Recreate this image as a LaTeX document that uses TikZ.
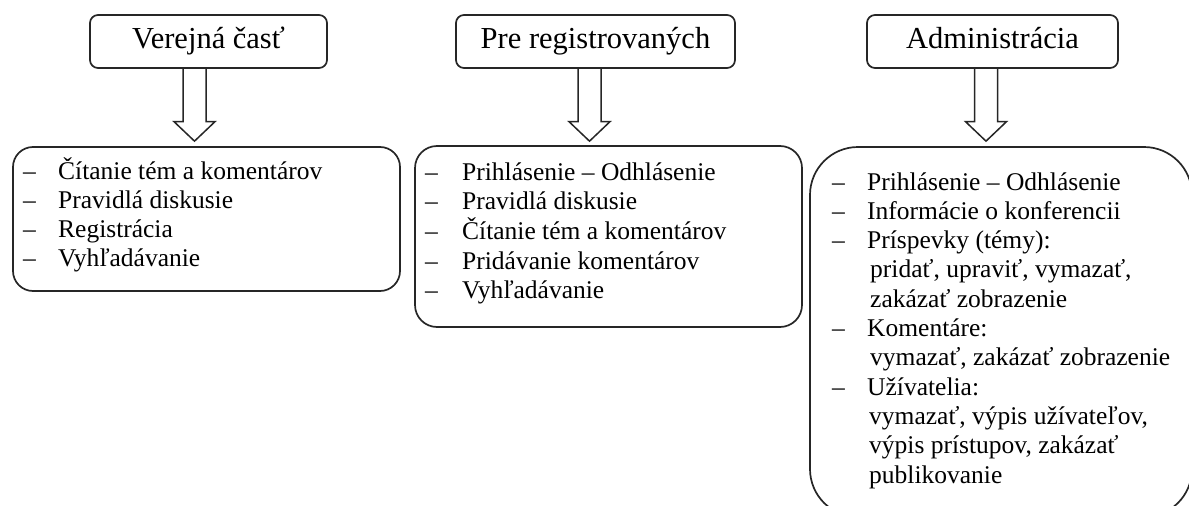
\documentclass[tikz,border=0pt]{standalone}
\usepackage{fontspec}
\setmainfont{Liberation Serif}
\usetikzlibrary{calc}

% hollow block arrow from a start point (top centre of the shaft) to a tip
\newcommand{\hollowarrow}[2]{%
  \draw[arrowline]
    ($(#1)+(-11.5,0)$) -- ($(#1 |- #2)+(-11.5,-19.5)$) -- ++(-9,0) -- (#2)
    -- ($(#1 |- #2)+(20.5,-19.5)$) -- ++(-9,0) -- ($(#1)+(11.5,0)$);}

\begin{document}
\begin{tikzpicture}[x=1pt,y=-1pt,
  frame/.style={draw=black!85, line width=1.7pt},
  headbox/.style={frame, rounded corners=8pt, minimum height=53pt, inner sep=0pt,
    text height=22pt, text depth=9pt, font=\fontsize{30.5}{37}\selectfont},
  listbox/.style={frame, inner sep=0pt},
  listtext/.style={anchor=base west, inner sep=0pt, font=\fontsize{25.5}{29.3}\selectfont},
  arrowline/.style={draw=black!85, line width=1.5pt, line join=miter}]

\useasboundingbox (0,0) rectangle (1189,506);
\clip (0,0) rectangle (1189,506);

% section headings
\node[headbox, minimum width=237pt] (t1) at (208.5,41.5) {Verejná časť};
\node[headbox, minimum width=279pt] (t2) at (595.5,41.5) {Pre registrovaných};
\node[headbox, minimum width=251pt] (t3) at (992.5,41.5) {Administrácia};

% content boxes
\node[listbox, rounded corners=20pt, minimum width=387pt, minimum height=144pt] (l1) at (206.5,219) {};
\node[listbox, rounded corners=22pt, minimum width=387pt, minimum height=181pt] (l2) at (608.5,236.5) {};
\node[listbox, rounded corners=48pt, minimum width=382pt, minimum height=370pt] (l3) at (1001,332) {};

% box contents
\node[listtext] (c1) at (23,179) {%
  \begin{tabular}[t]{@{}p{35pt}@{}l@{}}
  – & Čítanie tém a komentárov\\
  – & Pravidlá diskusie\\
  – & Registrácia\\
  – & Vyhľadávanie
  \end{tabular}};

\node[listtext] (c2) at (425,180) {%
  \begin{tabular}[t]{@{}p{37pt}@{}l@{}}
  – & Prihlásenie – Odhlásenie\\
  – & Pravidlá diskusie\\
  – & Čítanie tém a komentárov\\
  – & Pridávanie komentárov\\
  – & Vyhľadávanie
  \end{tabular}};

\node[listtext] (c3) at (832,190) {%
  \begin{tabular}[t]{@{}p{35pt}@{}l@{}}
  – & Prihlásenie – Odhlásenie\\
  – & Informácie o konferencii\\
  – & Príspevky (témy):\\
    & \hspace{3pt}pridať, upraviť, vymazať,\\
    & \hspace{3pt}zakázať zobrazenie\\
  – & Komentáre:\\
    & \hspace{3pt}vymazať, zakázať zobrazenie\\
  – & Užívatelia:\\
    & \hspace{2pt}vymazať, výpis užívateľov,\\
    & \hspace{2pt}výpis prístupov, zakázať\\
    & \hspace{2pt}publikovanie
  \end{tabular}};

% arrows from headings to their boxes
\coordinate (a1s) at ($(t1.south)+(-14,0)$);
\coordinate (a1e) at ($(a1s |- l1.north)+(0,-5)$);
\coordinate (a2s) at ($(t2.south)+(-6,0)$);
\coordinate (a2e) at ($(a2s |- l2.north)+(0,-4)$);
\coordinate (a3s) at ($(t3.south)+(-6.5,0)$);
\coordinate (a3e) at ($(a3s |- l3.north)+(0,-5)$);
\hollowarrow{a1s}{a1e}
\hollowarrow{a2s}{a2e}
\hollowarrow{a3s}{a3e}
\end{tikzpicture}
\end{document}
